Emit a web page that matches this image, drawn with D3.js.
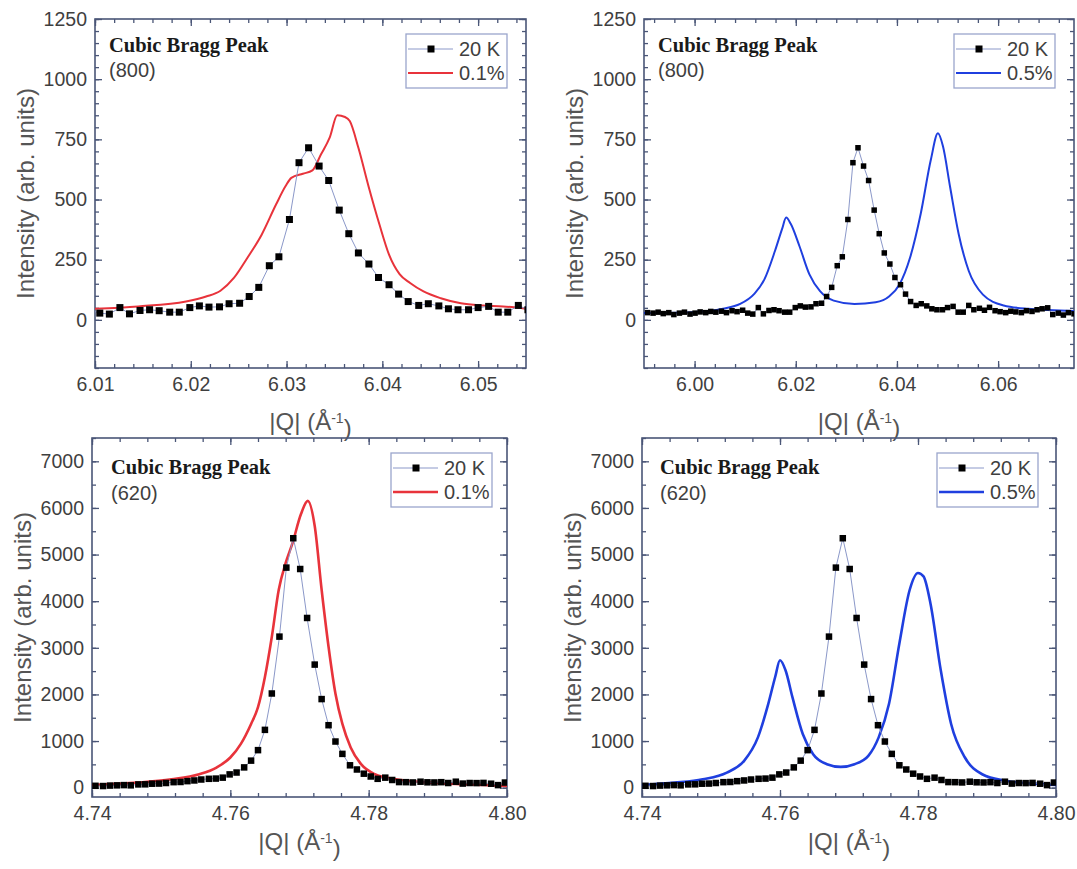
<!DOCTYPE html>
<html>
<head>
<meta charset="utf-8">
<script src="https://cdn.jsdelivr.net/npm/d3@7"></script>
<style>
  body { margin: 0; background: #fff; }
  svg text { font-family: "Liberation Sans", Arial, sans-serif; }
</style>
</head>
<body>
<svg id="fig" width="1077" height="869"></svg>
<script>
// ---------- (800) reflection ----------
// 20 K reference scan, shared by both top panels
const q800_20K = [
  5.9907, 5.9918, 5.9928, 5.9938, 5.9949, 5.9959, 5.9970, 5.9980, 5.9991, 6.0001,
  6.0011, 6.0022, 6.0032, 6.0042, 6.0053, 6.0063, 6.0074, 6.0084, 6.0095,
  6.0105, 6.0115, 6.0126, 6.0136, 6.0147, 6.0157, 6.0167, 6.0178, 6.0188, 6.0199,
  6.0209, 6.0219, 6.0230, 6.0240, 6.0251, 6.0261, 6.0271, 6.0282, 6.0292, 6.0303,
  6.0313, 6.0323, 6.0334, 6.0344, 6.0355, 6.0365, 6.0375, 6.0386, 6.0396, 6.0407,
  6.0417, 6.0427, 6.0438, 6.0448, 6.0459, 6.0469, 6.0479, 6.0490, 6.0500, 6.0511,
  6.0521, 6.0531, 6.0542, 6.0552, 6.0563, 6.0573, 6.0583, 6.0594, 6.0604, 6.0615,
  6.0625, 6.0635, 6.0646, 6.0656, 6.0667, 6.0677, 6.0687, 6.0698, 6.0708, 6.0719,
  6.0729, 6.0739, 6.0750, 6.0760, 6.0771
];
const i800_20K = [
  30, 28, 32, 26, 30, 22, 28, 32, 24, 28,
  33, 30, 35, 32, 36, 30, 38, 34, 40,
  28, 24, 51, 25, 39, 42, 38, 32, 32, 51,
  58, 53, 54, 67, 69, 97, 135, 225, 262, 417,
  653, 715, 639, 579, 456, 358, 278, 232, 176, 146,
  107, 76, 60, 67, 58, 46, 42, 42, 51, 56,
  32, 32, 60, 42, 48, 40, 52, 38, 34, 30,
  36, 33, 30, 38, 35, 42, 46, 50, 22, 28,
  20, 30, 25, 32, 28
];
// 0.1 % strain
const q800_s01 = [
  6.0100, 6.0145, 6.0195, 6.0216, 6.0231, 6.0245, 6.0259, 6.0274, 6.0289, 6.0299,
  6.0305, 6.0317, 6.0327, 6.0336, 6.0345, 6.0353, 6.0361, 6.0366, 6.0375, 6.0386,
  6.0397, 6.0407, 6.0418, 6.0429, 6.0443, 6.0461, 6.0482, 6.0505, 6.0526, 6.0550
];
const i800_s01 = [
  46, 56, 76, 97, 121, 174, 257, 354, 479, 556,
  590, 607, 621, 688, 757, 850, 843, 826, 715, 549,
  396, 271, 190, 153, 118, 90, 69, 60, 56, 46
];
// 0.5 % strain
const q800_s05 = [
  5.9900, 5.9995, 6.0056, 6.0090, 6.0118, 6.0138, 6.0159, 6.0173, 6.0181, 6.0190,
  6.0207, 6.0227, 6.0248, 6.0275, 6.0316, 6.0358, 6.0385, 6.0405, 6.0426, 6.0447,
  6.0467, 6.0481, 6.0491, 6.0505, 6.0522, 6.0542, 6.0570, 6.0611, 6.0659, 6.0780
];
const i800_s05 = [
  28, 32, 46, 66, 108, 168, 287, 378, 425, 399,
  308, 189, 119, 80, 66, 73, 98, 147, 259, 441,
  665, 775, 721, 553, 357, 203, 105, 60, 46, 35
];

// ---------- (620) reflection ----------
const q620_20K = [
  4.7405, 4.7416, 4.7426, 4.7436, 4.7446, 4.7456, 4.7467, 4.7477, 4.7487, 4.7497,
  4.7507, 4.7518, 4.7528, 4.7538, 4.7548, 4.7558, 4.7569, 4.7579, 4.7589, 4.7599,
  4.7609, 4.7620, 4.7630, 4.7640, 4.7650, 4.7660, 4.7671, 4.7681, 4.7691, 4.7701,
  4.7711, 4.7722, 4.7732, 4.7742, 4.7752, 4.7762, 4.7773, 4.7783, 4.7793, 4.7803,
  4.7813, 4.7824, 4.7834, 4.7844, 4.7854, 4.7864, 4.7875, 4.7885, 4.7895, 4.7905,
  4.7915, 4.7926, 4.7936, 4.7946, 4.7956, 4.7966, 4.7977, 4.7987, 4.7997
];
const i620_20K = [
  40, 35, 45, 50, 55, 50, 70, 72, 85, 88,
  100, 118, 122, 140, 155, 175, 190, 195, 215, 285,
  325, 435, 580, 805, 1240, 2020, 3240, 4720, 5350, 4690,
  3640, 2640, 1900, 1340, 990, 725, 480, 390, 300, 240,
  190, 215, 165, 120, 118, 112, 128, 115, 112, 118,
  100, 128, 88, 100, 98, 102, 85, 55, 110
];
const q620_s01 = [
  4.7400, 4.7466, 4.7515, 4.7555, 4.7580, 4.7600, 4.7615, 4.7630, 4.7640, 4.7650,
  4.7660, 4.7670, 4.7680, 4.7690, 4.7702, 4.7712, 4.7722, 4.7732, 4.7742, 4.7752,
  4.7762, 4.7774, 4.7789, 4.7809, 4.7839, 4.7889, 4.7938, 4.8000
];
const i620_s01 = [
  58, 108, 180, 288, 432, 647, 935, 1367, 1727, 2374,
  3237, 4245, 4820, 5252, 5863, 6151, 5612, 4245, 3022, 2014,
  1367, 863, 504, 288, 180, 108, 72, 36
];
const q620_s05 = [
  4.7400, 4.7448, 4.7488, 4.7523, 4.7548, 4.7568, 4.7583, 4.7593, 4.7600, 4.7608,
  4.7618, 4.7633, 4.7648, 4.7668, 4.7688, 4.7708, 4.7728, 4.7743, 4.7758, 4.7773,
  4.7788, 4.7800, 4.7808, 4.7818, 4.7833, 4.7848, 4.7868, 4.7893, 4.7928, 4.7968,
  4.8000
];
const i620_s05 = [
  58, 108, 180, 324, 576, 1079, 1799, 2374, 2734, 2518,
  1942, 1151, 719, 504, 446, 504, 683, 1079, 1799, 3094,
  4245, 4604, 4532, 3957, 2518, 1367, 647, 288, 144, 86,
  58
];

// ---------- tick labels and text ----------
const xTicksTopLeft  = [6.01, 6.02, 6.03, 6.04, 6.05];
const xTicksTopRight = [6.00, 6.02, 6.04, 6.06];
const xTicks620      = [4.74, 4.76, 4.78, 4.80];
const yTicks800      = [0, 250, 500, 750, 1000, 1250];
const yTicks620      = [0, 1000, 2000, 3000, 4000, 5000, 6000, 7000];
const seriesNames    = ["20 K", "0.1%", "0.5%"];
const reflections    = ["(800)", "(620)"];

const RED = "#e8333b";
const BLUE = "#1f3fdf";
const FRAME = "#4a5677";
const REFLINE = "#8b98c9";
const TEXT = "#3f3f3f";

const zip = (qs, is) => qs.map((q, k) => ({ q: q, v: is[k] }));

const panels = [
  { id: "a", left: 95, right: 526, top: 19, bottom: 368,
    xDomain: [6.01, 6.055], yDomain: [-200, 1250],
    xTicks: xTicksTopLeft, xMinorStep: 0.002, yTicks: yTicks800, yMinorStep: 50,
    ref: zip(q800_20K, i800_20K), fit: zip(q800_s01, i800_s01),
    color: RED, label: seriesNames[1], hkl: reflections[0],
    marker: 7, lw: 2, xLabelY: 422, titleDx: 14, titleDy: 33, subDy: 58, legGap: 19 },
  { id: "b", left: 644, right: 1074, top: 19, bottom: 368,
    xDomain: [5.99, 6.075], yDomain: [-200, 1250],
    xTicks: xTicksTopRight, xMinorStep: 0.004, yTicks: yTicks800, yMinorStep: 50,
    ref: zip(q800_20K, i800_20K), fit: zip(q800_s05, i800_s05),
    color: BLUE, label: seriesNames[2], hkl: reflections[0],
    marker: 5.5, lw: 2, xLabelY: 422, titleDx: 14, titleDy: 33, subDy: 58, legGap: 19 },
  { id: "c", left: 92, right: 507, top: 438, bottom: 797,
    xDomain: [4.74, 4.80], yDomain: [-200, 7500],
    xTicks: xTicks620, xMinorStep: 0.004, yTicks: yTicks620, yMinorStep: 500,
    ref: zip(q620_20K, i620_20K), fit: zip(q620_s01, i620_s01),
    color: RED, label: seriesNames[1], hkl: reflections[1],
    marker: 6.5, lw: 2.6, xLabelY: 842, titleDx: 19, titleDy: 36, subDy: 62, legGap: 15 },
  { id: "d", left: 642, right: 1056, top: 438, bottom: 797,
    xDomain: [4.74, 4.80], yDomain: [-200, 7500],
    xTicks: xTicks620, xMinorStep: 0.004, yTicks: yTicks620, yMinorStep: 500,
    ref: zip(q620_20K, i620_20K), fit: zip(q620_s05, i620_s05),
    color: BLUE, label: seriesNames[2], hkl: reflections[1],
    marker: 6.5, lw: 2.6, xLabelY: 842, titleDx: 18, titleDy: 36, subDy: 62, legGap: 18 }
];

const svg = d3.select("#fig");

function minorValues(domain, step) {
  const lo = Math.ceil(domain[0] / step - 1e-6);
  const hi = Math.floor(domain[1] / step + 1e-6);
  return d3.range(lo, hi + 1).map(k => +(k * step).toFixed(6));
}

function styleAxis(sel, labels) {
  sel.select(".domain").remove();
  sel.selectAll(".tick line").attr("stroke", FRAME).attr("stroke-width", 1.3);
  if (labels) {
    sel.selectAll(".tick text")
      .attr("fill", TEXT)
      .style("font-family", '"Liberation Sans", Arial, sans-serif')
      .style("font-size", "19.5px");
  } else {
    sel.selectAll(".tick text").remove();
  }
}

function drawPanel(p) {
  const g = svg.append("g").attr("class", "panel-" + p.id);
  const x = d3.scaleLinear().domain(p.xDomain).range([p.left, p.right]);
  const y = d3.scaleLinear().domain(p.yDomain).range([p.bottom, p.top]);
  const xMinor = minorValues(p.xDomain, p.xMinorStep);
  const yMinor = minorValues(p.yDomain, p.yMinorStep);

  const clipId = "clip-" + p.id;
  svg.append("clipPath").attr("id", clipId)
    .append("rect")
    .attr("x", p.left).attr("y", p.top)
    .attr("width", p.right - p.left).attr("height", p.bottom - p.top);

  // minor ticks on all four sides, pointing inward
  [[d3.axisBottom(x).tickValues(xMinor), p.bottom],
   [d3.axisTop(x).tickValues(xMinor), p.top]].forEach(([ax, pos]) => {
    g.append("g").attr("transform", `translate(0,${pos})`)
      .call(ax.tickSize(-4).tickFormat(""))
      .call(s => styleAxis(s, false));
  });
  [[d3.axisLeft(y).tickValues(yMinor), p.left],
   [d3.axisRight(y).tickValues(yMinor), p.right]].forEach(([ax, pos]) => {
    g.append("g").attr("transform", `translate(${pos},0)`)
      .call(ax.tickSize(-4).tickFormat(""))
      .call(s => styleAxis(s, false));
  });

  // major ticks
  g.append("g").attr("transform", `translate(0,${p.bottom})`)
    .call(d3.axisBottom(x).tickValues(p.xTicks).tickSize(-7).tickPadding(9)
      .tickFormat(d3.format(".2f")))
    .call(s => styleAxis(s, true));
  g.append("g").attr("transform", `translate(0,${p.top})`)
    .call(d3.axisTop(x).tickValues(p.xTicks).tickSize(-7).tickFormat(""))
    .call(s => styleAxis(s, false));
  g.append("g").attr("transform", `translate(${p.left},0)`)
    .call(d3.axisLeft(y).tickValues(p.yTicks).tickSize(-7).tickPadding(8)
      .tickFormat(d3.format("d")))
    .call(s => styleAxis(s, true));
  g.append("g").attr("transform", `translate(${p.right},0)`)
    .call(d3.axisRight(y).tickValues(p.yTicks).tickSize(-7).tickFormat(""))
    .call(s => styleAxis(s, false));

  // frame
  g.append("rect")
    .attr("x", p.left).attr("y", p.top)
    .attr("width", p.right - p.left).attr("height", p.bottom - p.top)
    .attr("fill", "none").attr("stroke", FRAME).attr("stroke-width", 1.6);

  // data
  const plot = g.append("g").attr("clip-path", `url(#${clipId})`);

  plot.append("path").datum(p.fit)
    .attr("d", d3.line().x(d => x(d.q)).y(d => y(d.v)).curve(d3.curveMonotoneX))
    .attr("fill", "none").attr("stroke", p.color)
    .attr("stroke-width", p.lw).attr("stroke-linejoin", "round");

  plot.append("path").datum(p.ref)
    .attr("d", d3.line().x(d => x(d.q)).y(d => y(d.v)))
    .attr("fill", "none").attr("stroke", REFLINE).attr("stroke-width", 1);

  const m = p.marker;
  plot.selectAll("rect.pt").data(p.ref).join("rect")
    .attr("class", "pt")
    .attr("x", d => x(d.q) - m / 2).attr("y", d => y(d.v) - m / 2)
    .attr("width", m).attr("height", m)
    .attr("fill", "#000");

  // axis titles
  g.append("text")
    .attr("transform", `translate(${p.left - 69},${(p.top + p.bottom) / 2}) rotate(-90)`)
    .attr("text-anchor", "middle").attr("dy", "0.35em")
    .attr("fill", "#555").style("font-size", "24px")
    .text("Intensity (arb. units)");

  const xl = g.append("text")
    .attr("x", (p.left + p.right) / 2).attr("y", p.xLabelY)
    .attr("text-anchor", "middle").attr("dy", "0.35em")
    .attr("fill", "#555").style("font-size", "24px");
  xl.append("tspan").text("|Q| (Å");
  xl.append("tspan").attr("dy", "-0.55em").style("font-size", "14px").text("-1");
  xl.append("tspan").attr("dy", "0.55em").text(")");

  // panel annotation
  g.append("text")
    .attr("x", p.left + p.titleDx).attr("y", p.top + p.titleDy)
    .attr("fill", "#1a1a1a")
    .style("font-family", '"Liberation Serif", "Times New Roman", serif')
    .style("font-weight", "bold").style("font-size", "20.5px")
    .text("Cubic Bragg Peak");
  g.append("text")
    .attr("x", p.left + p.titleDx).attr("y", p.top + p.subDy)
    .attr("fill", TEXT).style("font-size", "20px")
    .text(p.hkl);

  // legend
  const lw = 101, lh = 54;
  const lx = p.right - p.legGap - lw, ly = p.top + 15;
  const lg = g.append("g");
  lg.append("rect").attr("x", lx).attr("y", ly).attr("width", lw).attr("height", lh)
    .attr("fill", "#fff").attr("stroke", "#9aa5cc").attr("stroke-width", 1.3);
  const r1 = ly + 15, r2 = ly + 39;
  lg.append("line").attr("x1", lx + 2).attr("x2", lx + 47).attr("y1", r1).attr("y2", r1)
    .attr("stroke", REFLINE).attr("stroke-width", 1);
  lg.append("rect").attr("x", lx + 25 - 3.5).attr("y", r1 - 3.5)
    .attr("width", 7).attr("height", 7).attr("fill", "#000");
  lg.append("text").attr("x", lx + 53).attr("y", r1).attr("dy", "0.35em")
    .attr("fill", TEXT).style("font-size", "20px").text(seriesNames[0]);
  lg.append("line").attr("x1", lx + 2).attr("x2", lx + 47).attr("y1", r2).attr("y2", r2)
    .attr("stroke", p.color).attr("stroke-width", p.lw);
  lg.append("text").attr("x", lx + 53).attr("y", r2).attr("dy", "0.35em")
    .attr("fill", TEXT).style("font-size", "20px").text(p.label);
}

panels.forEach(drawPanel);
</script>
</body>
</html>
